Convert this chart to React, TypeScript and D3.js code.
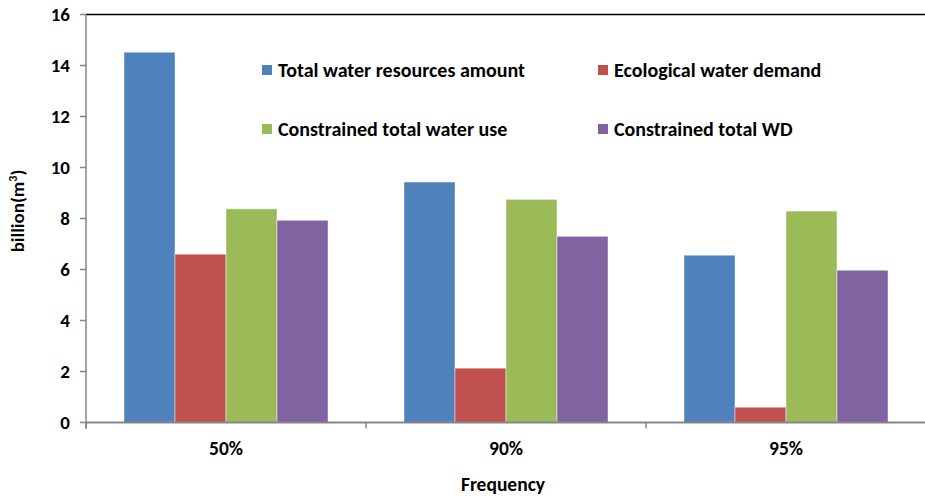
import React from "react";
import * as d3 from "d3";

// Frequency scenarios on the x axis
const categories = ["50%", "90%", "95%"];

// Series names shown in the legend
const seriesNames = [
  "Total water resources amount",
  "Ecological water demand",
  "Constrained total water use",
  "Constrained total WD",
];

// Values in billion m³, one array per series (50%, 90%, 95%)
const totalWaterResources = [14.52, 9.43, 6.56];
const ecologicalWaterDemand = [6.6, 2.13, 0.6];
const constrainedTotalWaterUse = [8.38, 8.75, 8.29];
const constrainedTotalWD = [7.93, 7.3, 5.97];

const seriesValues = [
  totalWaterResources,
  ecologicalWaterDemand,
  constrainedTotalWaterUse,
  constrainedTotalWD,
];

const seriesColors = ["#4F81BD", "#C0504D", "#9BBB59", "#8064A2"];

const yTicks = [0, 2, 4, 6, 8, 10, 12, 14, 16];

const W = 925;
const H = 496;
const margin = { left: 86, right: -1, top: 14.5, bottom: 73.5 };
const FONT = "Carlito, Calibri, Lato, 'Open Sans', sans-serif";

export default function App() {
  const x0 = d3
    .scaleBand<string>()
    .domain(categories)
    .range([margin.left, W - margin.right])
    .paddingInner(0)
    .paddingOuter(0);

  const x1 = d3
    .scaleBand<string>()
    .domain(seriesNames)
    .range([0, x0.bandwidth()])
    .paddingInner(0)
    .paddingOuter(0.745);

  const y = d3
    .scaleLinear()
    .domain([0, 16])
    .range([H - margin.bottom, margin.top]);

  const axisColor = "#868686";
  const plotLeft = margin.left;
  const plotRight = W - margin.right;
  const plotBottom = y(0);

  // category boundaries for x ticks
  const boundaries = [
    ...categories.map((c) => x0(c) as number),
    (x0(categories[categories.length - 1]) as number) + x0.bandwidth(),
  ];

  // legend layout: 2 columns x 2 rows
  const legendCols = [262, 598];
  const legendRows = [65, 124];

  return (
    <div style={{ position: "absolute", left: 0, top: 0 }}>
      <svg width={W} height={H} style={{ display: "block", background: "#fff" }}>
        {/* bars */}
        {categories.map((cat, ci) => (
          <g key={cat} transform={`translate(${x0(cat)},0)`}>
            {seriesNames.map((s, si) => {
              const v = seriesValues[si][ci];
              return (
                <rect
                  key={s}
                  x={x1(s)}
                  y={y(v)}
                  width={x1.bandwidth()}
                  height={plotBottom - y(v)}
                  fill={seriesColors[si]}
                  stroke="rgba(255,255,255,0.45)"
                  strokeWidth={1}
                />
              );
            })}
          </g>
        ))}

        {/* top border */}
        <line x1={plotLeft} x2={W} y1={margin.top} y2={margin.top} stroke="#000" strokeWidth={1.5} />

        {/* y axis */}
        <line x1={plotLeft} x2={plotLeft} y1={margin.top} y2={plotBottom + 6} stroke={axisColor} strokeWidth={1.5} />
        {yTicks.map((t) => (
          <g key={t}>
            <line x1={plotLeft - 6} x2={plotLeft} y1={y(t)} y2={y(t)} stroke={axisColor} strokeWidth={1.5} />
            <text
              x={plotLeft - 16}
              y={y(t)}
              dy="0.36em"
              textAnchor="end"
              fontFamily={FONT}
              fontWeight="bold"
              fontSize={19}
              fill="#000"
            >
              {t}
            </text>
          </g>
        ))}

        {/* x axis */}
        <line x1={plotLeft} x2={plotRight} y1={plotBottom} y2={plotBottom} stroke={axisColor} strokeWidth={2} />
        {boundaries.map((bx, i) => (
          <line key={i} x1={bx} x2={bx} y1={plotBottom} y2={plotBottom + 6} stroke={axisColor} strokeWidth={1.5} />
        ))}
        {categories.map((c) => (
          <text
            key={c}
            x={(x0(c) as number) + x0.bandwidth() / 2}
            y={455}
            textAnchor="middle"
            fontFamily={FONT}
            fontWeight="bold"
            fontSize={19.5}
            fill="#000"
          >
            {c}
          </text>
        ))}

        {/* axis titles */}
        <text
          x={503}
          y={491}
          textAnchor="middle"
          fontFamily={FONT}
          fontWeight="bold"
          fontSize={19.5}
          fill="#000"
        >
          Frequency
        </text>
        <text
          transform={`translate(24,211) rotate(-90)`}
          textAnchor="middle"
          fontFamily={FONT}
          fontWeight="bold"
          fontSize={19}
          fill="#000"
        >
          billion(m
          <tspan dy={-7} fontSize={12}>3</tspan>
          <tspan dy={7}>)</tspan>
        </text>

        {/* legend */}
        {seriesNames.map((s, i) => {
          const lx = legendCols[i % 2];
          const ly = legendRows[Math.floor(i / 2)];
          return (
            <g key={s}>
              <rect x={lx} y={ly} width={10} height={10} fill={seriesColors[i]} />
              <text
                x={lx + 16}
                y={ly + 12}
                fontFamily={FONT}
                fontWeight="bold"
                fontSize={20}
                fill="#000"
              >
                {s}
              </text>
            </g>
          );
        })}
      </svg>
    </div>
  );
}
